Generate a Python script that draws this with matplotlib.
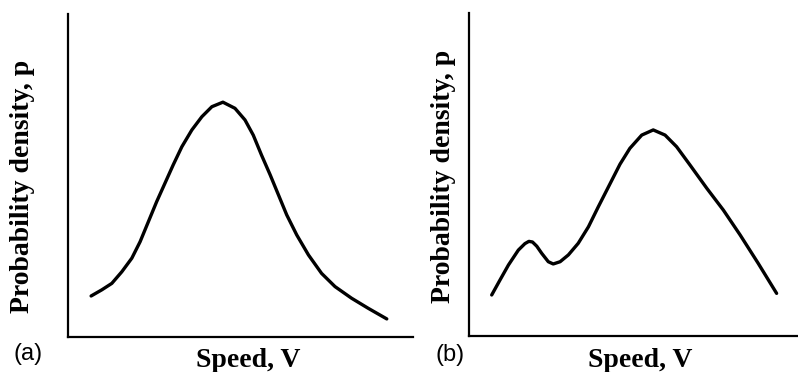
import matplotlib
matplotlib.use("Agg")
import matplotlib.pyplot as plt

# Unimodal speed distribution (panel a)
speed_a = [0.67, 0.98, 1.27, 1.56, 1.85, 2.09, 2.33, 2.57, 2.81, 3.05, 3.30,
           3.59, 3.88, 4.17, 4.49, 4.84, 5.13, 5.37, 5.61, 5.86, 6.10, 6.34,
           6.63, 6.97, 7.35, 7.74, 8.22, 8.70, 9.24]
density_a = [0.127, 0.146, 0.166, 0.202, 0.244, 0.295, 0.357, 0.419, 0.476, 0.533, 0.589,
             0.641, 0.682, 0.713, 0.727, 0.708, 0.672, 0.625, 0.563, 0.502, 0.440, 0.378,
             0.316, 0.254, 0.197, 0.156, 0.120, 0.089, 0.056]

# Bimodal speed distribution (panel b)
speed_b = [0.69, 0.94, 1.20, 1.50, 1.70, 1.82, 1.93, 2.06, 2.21, 2.41, 2.56, 2.77, 3.02,
           3.32, 3.63, 3.93, 4.29, 4.59, 4.89, 5.25, 5.60, 5.96, 6.31, 6.72,
           7.23, 7.73, 8.24, 8.79, 9.35]
density_b = [0.127, 0.173, 0.220, 0.266, 0.286, 0.293, 0.291, 0.278, 0.256, 0.230, 0.223, 0.230, 0.251,
             0.287, 0.338, 0.400, 0.472, 0.532, 0.581, 0.622, 0.638, 0.622, 0.586, 0.529,
             0.457, 0.390, 0.313, 0.225, 0.132]

W, H = 798, 372
fig = plt.figure(figsize=(W / 100, H / 100), dpi=100)

serif = dict(family="Liberation Serif", weight="bold", size=20)
sans = dict(family="Liberation Sans", size=17)


def make_axes(x0, y_top, x1, y_bot):
    ax = fig.add_axes([x0 / W, (H - y_bot) / H, (x1 - x0) / W, (y_bot - y_top) / H])
    for side in ("top", "right"):
        ax.spines[side].set_visible(False)
    for side in ("left", "bottom"):
        ax.spines[side].set_linewidth(1.6)
        ax.spines[side].set_color("black")
    ax.set_xticks([])
    ax.set_yticks([])
    ax.set_xlim(0, 10)
    ax.set_ylim(0, 1)
    ax.patch.set_alpha(0)
    return ax


ax_a = make_axes(68, 14, 413, 337)
ax_b = make_axes(469, 13, 798, 336)

ax_a.plot(speed_a, density_a, color="black", lw=2.4,
          solid_joinstyle="round", solid_capstyle="round")
ax_b.plot(speed_b, density_b, color="black", lw=2.4,
          solid_joinstyle="round", solid_capstyle="round")

# Axis titles
fig.text(23 / W, (H - 186) / H, "Probability density, p", rotation=90,
         ha="center", va="center", **serif)
fig.text(443 / W, (H - 176) / H, "Probability density, p", rotation=90,
         ha="center", va="center", **serif)
fig.text(248 / W, (H - 367) / H, "Speed, V", ha="center", va="baseline", **serif)
fig.text(640 / W, (H - 367) / H, "Speed, V", ha="center", va="baseline", **serif)

# Panel tags
fig.text(28 / W, (H - 354) / H, "(a)", ha="center", va="center", **sans)
fig.text(450 / W, (H - 355) / H, "(b)", ha="center", va="center", **sans)

fig.savefig("out.png", dpi=100)
